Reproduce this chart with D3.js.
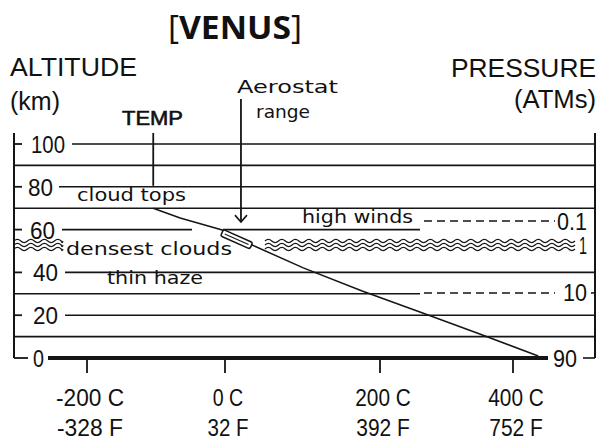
<!DOCTYPE html>
<html>
<head>
<meta charset="utf-8">
<script src="https://cdn.jsdelivr.net/npm/d3@7"></script>
<style>
  html, body { margin: 0; padding: 0; background: #fff; }
  svg { display: block; }
  text { font-family: "Liberation Sans", Arial, sans-serif; fill: #111; }
  .mac { font-family: "DejaVu Sans", "Liberation Sans", sans-serif; }
  .title { font-family: "Open Sans", "Noto Sans", sans-serif; }
</style>
</head>
<body>
<svg id="chart" width="599" height="440"></svg>
<script>
// Altitude levels (km) that get a horizontal rule; 50 km is drawn as the cloud band
const altGrid = [0, 10, 20, 30, 40, 60, 70, 80, 90, 100];
const altTicks = [0, 20, 40, 60, 80, 100];
// Temperature axis
const tempTicksC = [-200, 0, 200, 400];
const tempTicksF = [-328, 32, 392, 752];
// Pressure (atm) levels on the right and the altitude they sit at
const pressureLabels = ["0.1", "1", "10", "90"];
const pressureAlt = [64, 52.8, 30.4, 0];
// Temperature profile: temperature (°C) by altitude (km)
const profileTempC = [-104, -65, -4, 35, 101, 177, 260, 346, 438];
const profileAlt = [70, 65.4, 59.8, 52.8, 42.1, 31.3, 21.5, 11.7, 0.9];
// Layers
const cloudBandAlt = 52.8;
const aerostatTempC = 15;
const aerostatAlt = 55.5;
const aerostatArrowTempC = 20.6;
const aerostatArrowAlt = 63.5;

const svg = d3.select("#chart");

const y = d3.scaleLinear().domain([0, 100]).range([358, 144]);
const x = d3.scaleLinear().domain(tempTicksC).range([87, 225, 380, 513]);

const axisLeft = 14, axisRight = 595;
const ink = "#151515";

// Title
const title = svg.append("text").attr("class", "title").attr("x", 168).attr("y", 38.5)
  .attr("font-size", 33).attr("textLength", 134).attr("lengthAdjust", "spacingAndGlyphs");
title.append("tspan").attr("font-weight", 400).text("[");
title.append("tspan").attr("font-weight", 700).text("VENUS");
title.append("tspan").attr("font-weight", 400).text("]");

// Axis headings
svg.append("text").attr("x", 10).attr("y", 76).attr("font-size", 26)
  .attr("textLength", 127).attr("lengthAdjust", "spacingAndGlyphs").text("ALTITUDE");
svg.append("text").attr("x", 10).attr("y", 110).attr("font-size", 25)
  .attr("textLength", 50).attr("lengthAdjust", "spacingAndGlyphs").text("(km)");
svg.append("text").attr("x", 596).attr("y", 77).attr("font-size", 26).attr("text-anchor", "end")
  .attr("textLength", 145).attr("lengthAdjust", "spacingAndGlyphs").text("PRESSURE");
svg.append("text").attr("x", 596).attr("y", 108).attr("font-size", 25).attr("text-anchor", "end")
  .attr("textLength", 82).attr("lengthAdjust", "spacingAndGlyphs").text("(ATMs)");

// Vertical axes
svg.append("line").attr("x1", axisLeft).attr("x2", axisLeft).attr("y1", 133).attr("y2", y(0))
  .attr("stroke", ink).attr("stroke-width", 2);
svg.append("line").attr("x1", axisRight).attr("x2", axisRight).attr("y1", 133).attr("y2", y(0))
  .attr("stroke", ink).attr("stroke-width", 2);

// Horizontal rules
const labelEnd = { 100: 72, 80: 59, 60: 62, 40: 65, 20: 65, 0: 48 };
function segmentsFor(a) {
  if (a === 60) return [[labelEnd[60], 192], [223, 420]];
  if (a === 30) return [[axisLeft, 420]];
  if (a === 0) return [[labelEnd[0], 548], [583, axisRight]];
  const start = labelEnd[a] !== undefined ? labelEnd[a] : axisLeft;
  return [[start, axisRight]];
}
const rules = [];
altGrid.forEach(a => segmentsFor(a).forEach(s => rules.push({ a, x1: s[0], x2: s[1] })));
svg.append("g").selectAll("line").data(rules).join("line")
  .attr("x1", d => d.x1).attr("x2", d => d.x2)
  .attr("y1", d => y(d.a)).attr("y2", d => y(d.a))
  .attr("stroke", ink)
  .attr("stroke-width", d => d.a === 0 && d.x2 < 560 ? 4 : 1.6);

// Left ticks and labels
svg.append("g").selectAll("line").data(altTicks).join("line")
  .attr("x1", axisLeft).attr("x2", d => d === 0 ? 28 : 22)
  .attr("y1", d => y(d)).attr("y2", d => y(d))
  .attr("stroke", ink).attr("stroke-width", 1.8);
svg.append("g").selectAll("text").data(altTicks).join("text")
  .attr("x", d => d === 100 ? 31 : (d === 80 ? 28 : (d === 60 ? 30 : 33)))
  .attr("y", d => y(d) + 9)
  .attr("font-size", 24)
  .attr("textLength", d => String(d).length === 3 ? 34 : (String(d).length === 2 ? 25 : 11))
  .attr("lengthAdjust", "spacingAndGlyphs")
  .text(d => d);

// Right pressure labels, dashed levels, ticks
svg.append("g").selectAll("text").data(pressureLabels).join("text")
  .attr("x", (d, i) => i === 3 ? 577 : 587)
  .attr("y", (d, i) => y(pressureAlt[i]) + 8.5)
  .attr("text-anchor", "end")
  .attr("font-size", 24)
  .attr("textLength", d => d === "0.1" ? 30 : (d.length === 2 ? 24 : 8))
  .attr("lengthAdjust", "spacingAndGlyphs")
  .text(d => d);
const dashed = [0, 2];
svg.append("g").selectAll("line").data(dashed).join("line")
  .attr("x1", 424).attr("x2", 555)
  .attr("y1", i => y(pressureAlt[i])).attr("y2", i => y(pressureAlt[i]))
  .attr("stroke", ink).attr("stroke-width", 1.6).attr("stroke-dasharray", "8,5");
svg.append("line").attr("x1", 591).attr("x2", axisRight)
  .attr("y1", y(pressureAlt[2])).attr("y2", y(pressureAlt[2]))
  .attr("stroke", ink).attr("stroke-width", 1.6);

// Bottom temperature ticks and labels
svg.append("g").selectAll("line").data(tempTicksC).join("line")
  .attr("x1", d => x(d)).attr("x2", d => x(d))
  .attr("y1", y(0)).attr("y2", 373)
  .attr("stroke", ink).attr("stroke-width", 1.8);
svg.append("g").selectAll("text").data(tempTicksC).join("text")
  .attr("x", d => x(d) + 3).attr("y", 406).attr("text-anchor", "middle")
  .attr("font-size", 24)
  .attr("textLength", d => String(d).length * 12.5 + 18)
  .attr("lengthAdjust", "spacingAndGlyphs")
  .text(d => d + " C");
svg.append("g").selectAll("text").data(tempTicksF).join("text")
  .attr("x", (d, i) => x(tempTicksC[i]) + 3).attr("y", 436).attr("text-anchor", "middle")
  .attr("font-size", 24)
  .attr("textLength", d => String(d).length * 12.5 + 16)
  .attr("lengthAdjust", "spacingAndGlyphs")
  .text(d => d + " F");

// Cloud band (wavy double lines)
function wavePath(x0, x1, yc, amp, period) {
  const p = d3.path();
  p.moveTo(x0, yc);
  let xs = x0, up = true;
  while (xs < x1) {
    const xe = Math.min(xs + period / 2, x1);
    p.quadraticCurveTo((xs + xe) / 2, yc + (up ? -2 * amp : 2 * amp), xe, yc);
    xs = xe; up = !up;
  }
  return p.toString();
}
const yb = y(cloudBandAlt);
[[axisLeft, 63], [265, 575]].forEach(([x0, x1]) => {
  [-4, 0, 4].forEach(off => {
    svg.append("path").attr("d", wavePath(x0, x1, yb + off, 1.6, 13.5))
      .attr("fill", "none").attr("stroke", ink).attr("stroke-width", 1.2);
  });
});

// Layer labels
function macLabel(txt, x0, yBase, len) {
  svg.append("text").attr("class", "mac").attr("x", x0).attr("y", yBase)
    .attr("font-size", 18).attr("textLength", len).attr("lengthAdjust", "spacingAndGlyphs")
    .text(txt);
}
macLabel("cloud tops", 77, 201, 109);
macLabel("densest clouds", 66, 255, 166);
macLabel("thin haze", 107, 284, 96);
macLabel("high winds", 302, 223, 111);

// TEMP label and leader
svg.append("text").attr("x", 122).attr("y", 125).attr("font-size", 20)
  .attr("stroke", "#111").attr("stroke-width", 0.6)
  .attr("textLength", 61).attr("lengthAdjust", "spacingAndGlyphs").text("TEMP");
svg.append("line").attr("x1", x(profileTempC[0])).attr("x2", x(profileTempC[0]))
  .attr("y1", 133).attr("y2", y(80) - 1)
  .attr("stroke", ink).attr("stroke-width", 1.8);

// Temperature profile
const line = d3.line().x(d => x(d[0])).y(d => y(d[1]));
svg.append("path").datum(profileTempC.map((t, i) => [t, profileAlt[i]]))
  .attr("d", line).attr("fill", "none").attr("stroke", ink).attr("stroke-width", 1.5);

// Aerostat
const ax = x(aerostatTempC), ay = y(aerostatAlt);
const balloon = svg.append("g").attr("transform", `translate(${ax},${ay}) rotate(24)`);
balloon.append("rect").attr("x", -16).attr("y", -3.5).attr("width", 32).attr("height", 7).attr("rx", 2)
  .attr("fill", "#fff").attr("stroke", ink).attr("stroke-width", 1.5);
balloon.append("line").attr("x1", -13).attr("x2", 13).attr("y1", 0).attr("y2", 0)
  .attr("stroke", ink).attr("stroke-width", 1);

svg.append("text").attr("class", "mac").attr("x", 237).attr("y", 93).attr("font-size", 17)
  .attr("textLength", 101).attr("lengthAdjust", "spacingAndGlyphs").text("Aerostat");
svg.append("text").attr("class", "mac").attr("x", 256).attr("y", 118).attr("font-size", 17)
  .attr("textLength", 54).attr("lengthAdjust", "spacingAndGlyphs").text("range");
const arx = x(aerostatArrowTempC), ary = y(aerostatArrowAlt);
svg.append("line").attr("x1", arx).attr("x2", arx).attr("y1", 99).attr("y2", ary)
  .attr("stroke", ink).attr("stroke-width", 1.8);
svg.append("path").attr("d", `M${arx - 6},${ary - 7} L${arx},${ary} L${arx + 6},${ary - 7}`)
  .attr("fill", "none").attr("stroke", ink).attr("stroke-width", 1.6);
</script>
</body>
</html>
